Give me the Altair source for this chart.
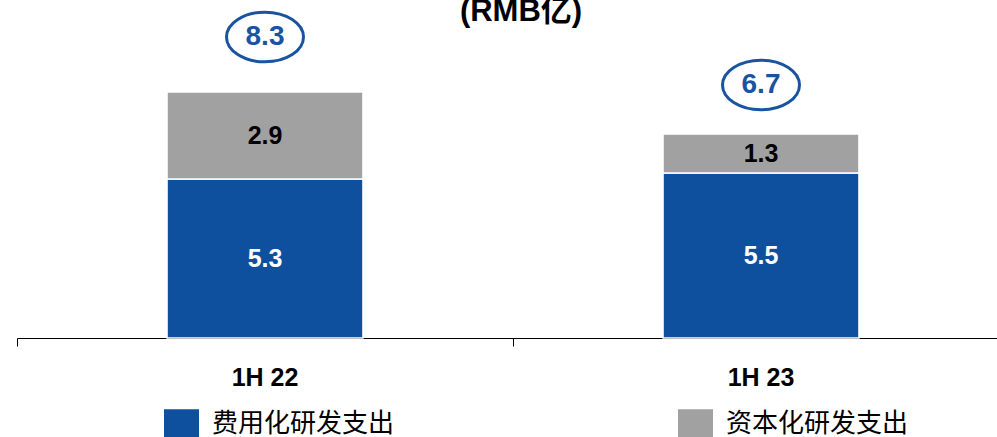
import altair as alt
import pandas as pd

# R&D spending, RMB 100 million
periods = ["1H 22", "1H 23"]
series_names = ["费用化研发支出", "资本化研发支出"]
expensed = [5.3, 5.5]
capitalized = [2.9, 1.3]
totals = [8.3, 6.7]
unit_title = "(RMB亿)"

BLUE = "#0F509E"
GRAY = "#A0A1A0"
RING = "#1A54A0"
FONT = "Liberation Sans, Arial, Noto Sans CJK SC"
CJK = "Noto Sans CJK SC, Liberation Sans"

rows = []
for i, p in enumerate(periods):
    rows.append({"period": p, "series": series_names[0], "value": expensed[i], "rank": 0})
    rows.append({"period": p, "series": series_names[1], "value": capitalized[i], "rank": 1})
seg = pd.DataFrame(rows)
tot = pd.DataFrame({"period": periods, "total": totals})
ttl = pd.DataFrame({"t": [unit_title]})

x_enc = alt.X(
    "period:N",
    sort=periods,
    scale=alt.Scale(range=[0, 992], paddingInner=0, paddingOuter=0),
    axis=alt.Axis(
        title=None,
        labelFont=FONT,
        labelFontSize=25,
        labelFontWeight="bold",
        labelColor="black",
        labelPadding=19,
        labelAngle=0,
        domainColor="black",
        domainWidth=1,
        tickColor="black",
        tickWidth=1,
        tickSize=8,
        bandPosition=0,
        grid=False,
    ),
)
y_scale = alt.Scale(domain=[0, 338 / 30], nice=False, zero=True)

ellipse_path = (
    "M -1 0 C -1 -0.357 -0.552 -0.646 0 -0.646 C 0.552 -0.646 1 -0.357 1 0 "
    "C 1 0.357 0.552 0.646 0 0.646 C -0.552 0.646 -1 0.357 -1 0 Z"
)
legend_rect = "M -1 -0.82 H 1 V 0.82 H -1 Z"

bars = alt.Chart(seg).mark_bar(
    width=alt.RelativeBandSize(0.395), stroke="white", strokeWidth=1.5
).encode(
    x=x_enc,
    y=alt.Y("value:Q", stack="zero", scale=y_scale, axis=None),
    color=alt.Color(
        "series:N",
        sort=series_names,
        scale=alt.Scale(domain=series_names, range=[BLUE, GRAY]),
        legend=alt.Legend(
            title=None,
            orient="none",
            direction="horizontal",
            columns=2,
            legendX=147,
            legendY=406,
            symbolType=legend_rect,
            symbolSize=1225,
            symbolStrokeWidth=0,
            symbolOpacity=1,
            labelFont=CJK,
            labelFontSize=26,
            labelColor="black",
            labelOffset=13,
            labelLimit=400,
            columnPadding=283,
        ),
    ),
    order=alt.Order("rank:Q"),
)

seg_labels = alt.Chart(seg).transform_stack(
    stack="value", groupby=["period"], as_=["v0", "v1"], sort=[alt.SortField("rank")]
).transform_calculate(
    mid="(datum.v0 + datum.v1) / 2"
).mark_text(font=FONT, fontSize=25, fontWeight="bold", baseline="middle").encode(
    x=alt.X("period:N", sort=periods),
    y=alt.Y("mid:Q", scale=y_scale, axis=None),
    text=alt.Text("value:Q", format=".1f"),
    color=alt.condition(
        alt.datum.series == series_names[0], alt.value("white"), alt.value("black")
    ),
)

rings = alt.Chart(tot).mark_point(
    shape=ellipse_path, size=5929, filled=False, stroke=RING, strokeWidth=3,
    opacity=1, yOffset=-52,
).encode(
    x=alt.X("period:N", sort=periods),
    y=alt.Y("total:Q", scale=y_scale, axis=None),
)

ring_labels = alt.Chart(tot).mark_text(
    font=FONT, fontSize=28, fontWeight="bold", color=RING, baseline="middle", dy=-52
).encode(
    x=alt.X("period:N", sort=periods),
    y=alt.Y("total:Q", scale=y_scale, axis=None),
    text=alt.Text("total:Q", format=".1f"),
)

title_text = alt.Chart(ttl).mark_text(
    font=FONT, fontSize=31, fontWeight="bold", color="black",
    align="center", baseline="alphabetic",
).encode(
    text="t:N", x=alt.value(504), y=alt.value(21)
)

chart = alt.layer(bars, seg_labels, rings, ring_labels, title_text).properties(
    width=980,
    height=338,
    background="white",
    padding={"left": 17, "top": 0, "right": 0, "bottom": 99},
    autosize=alt.AutoSizeParams(type="none"),
).configure_view(stroke=None)

chart.save("out.html", embed_options={"renderer": "svg", "actions": False})
